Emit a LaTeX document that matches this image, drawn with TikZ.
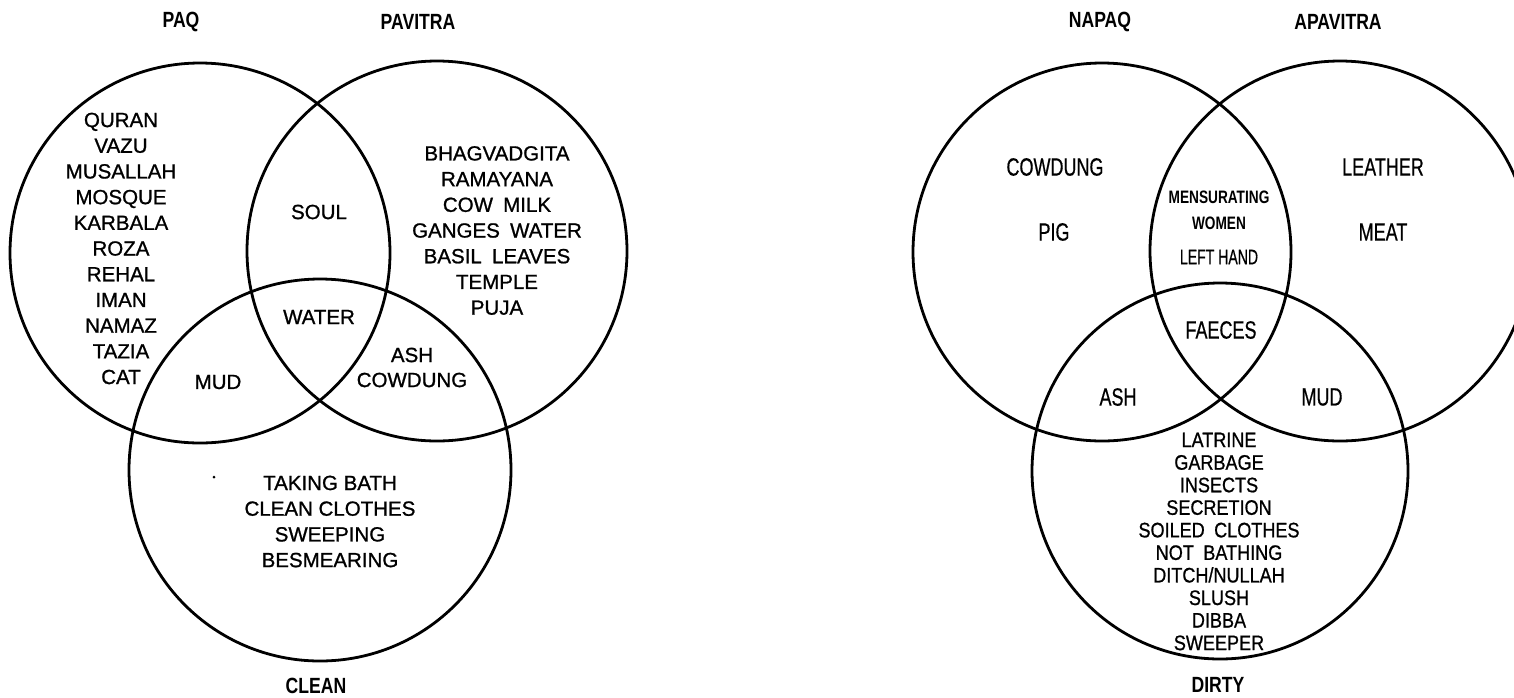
\documentclass[tikz,border=0pt]{standalone}
\usepackage{fontspec}
\setmainfont{Liberation Sans}
\newfontfamily\lfont[FakeBold=1]{Liberation Sans}
\newfontfamily\labfont[FakeStretch=0.8]{Liberation Sans}
\newfontfamily\rbigfont[FakeStretch=0.72,FakeBold=0.5]{Liberation Sans}
\newfontfamily\rsmallfont[FakeStretch=0.76]{Liberation Sans}
\newfontfamily\rlhfont[FakeStretch=0.67,FakeBold=0.5]{Liberation Sans}
\newfontfamily\rlistfont[FakeStretch=0.86,FakeBold=0.8]{Liberation Sans}
\tikzset{
  venn/.style={circle, draw, line width=2.8pt, inner sep=0pt, outer sep=0pt},
  ltext/.style={inner sep=0pt, align=center, font=\lfont\fontsize{20.5}{25.7}\selectfont},
  setlabel/.style={inner sep=0pt, font=\labfont\bfseries\fontsize{22}{26}\selectfont},
  rbig/.style={inner sep=0pt, font=\rbigfont\fontsize{25}{30}\selectfont},
  rsmall/.style={inner sep=0pt, font=\rsmallfont\bfseries\fontsize{18}{22}\selectfont},
  rlh/.style={inner sep=0pt, font=\rlhfont\fontsize{21}{25}\selectfont},
  rlist/.style={inner sep=0pt, align=center, font=\rlistfont\fontsize{21}{22.55}\selectfont},
}
\begin{document}
\begin{tikzpicture}[x=1pt,y=-1pt]
\useasboundingbox (0,0) rectangle (1514,697);
\fill[white] (0,0) rectangle (1514,697);
\clip (0,0) rectangle (1514,697);
% ---------- left diagram ----------
\node[venn, minimum size=380pt] (paq) at (200,253) {};
\node[venn, minimum size=380pt] (pavitra) at (437,251) {};
\node[venn, minimum size=382pt] (clean) at (320,470) {};
\node[setlabel] (lpaq) at (181,22) {PAQ};
\node[setlabel] (lpav) at (418,22) {PAVITRA};
\node[setlabel] (lclean) at (316,686) {CLEAN};
\node[ltext] (paqlist) at (121,248.5) {QURAN\\VAZU\\MUSALLAH\\MOSQUE\\KARBALA\\ROZA\\REHAL\\IMAN\\NAMAZ\\TAZIA\\CAT};
\node[ltext] (pavlist) at (497,230.5) {BHAGVADGITA\\RAMAYANA\\COW\hspace{0.5em}MILK\\GANGES\hspace{0.5em}WATER\\BASIL\hspace{0.5em}LEAVES\\TEMPLE\\PUJA};
\node[ltext] (soul) at (319,212) {SOUL};
\node[ltext] (water) at (319,317) {WATER};
\node[ltext] (mud) at (218,382) {MUD};
\node[ltext, font=\lfont\fontsize{20.5}{25}\selectfont] (ashcow) at (412,367.5) {ASH\\COWDUNG};
\node[ltext] (cleanlist) at (330,521.5) {TAKING BATH\\CLEAN CLOTHES\\SWEEPING\\BESMEARING};
\node[circle, fill, inner sep=0pt, minimum size=3pt] (speck) at (214,477) {};
% ---------- right diagram ----------
\node[venn, minimum size=378pt] (napaq) at (1102,252) {};
\node[venn, minimum size=380pt] (apavitra) at (1340,251) {};
\node[venn, minimum size=376pt] (dirty) at (1220,471) {};
\node[setlabel] (lnapaq) at (1100,22) {NAPAQ};
\node[setlabel] (lapav) at (1338,22) {APAVITRA};
\node[setlabel] (ldirty) at (1218,685) {DIRTY};
\node[rbig] (cowdung) at (1055,167) {COWDUNG};
\node[rbig] (pig) at (1054,232) {PIG};
\node[rbig] (leather) at (1383,167) {LEATHER};
\node[rbig] (meat) at (1383,232) {MEAT};
\node[rsmall] (mens) at (1219,197) {MENSURATING};
\node[rsmall] (women) at (1219,223) {WOMEN};
\node[rlh] (lefthand) at (1219,257) {LEFT HAND};
\node[rbig] (faeces) at (1221,330) {FAECES};
\node[rbig] (ash) at (1118,397) {ASH};
\node[rbig] (rmud) at (1322,397) {MUD};
\node[rlist] (dirtylist) at (1219,541.5) {LATRINE\\GARBAGE\\INSECTS\\SECRETION\\SOILED\hspace{0.45em}CLOTHES\\NOT\hspace{0.45em}BATHING\\DITCH/NULLAH\\SLUSH\\DIBBA\\SWEEPER};
\end{tikzpicture}
\end{document}
